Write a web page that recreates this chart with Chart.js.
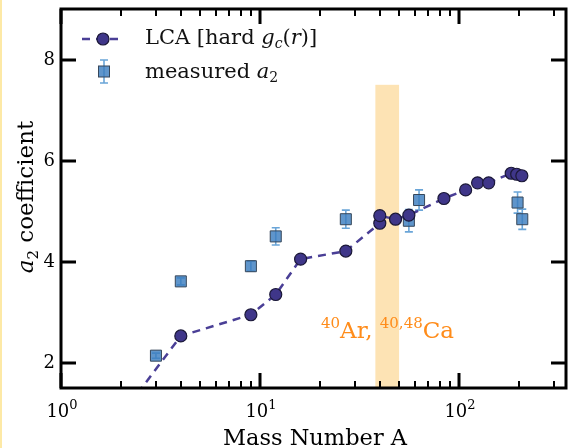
<!DOCTYPE html>
<html>
<head>
<meta charset="utf-8">
<script src="https://cdn.jsdelivr.net/npm/chart.js@4/dist/chart.umd.min.js"></script>
<style>
  html, body { margin: 0; padding: 0; background: #fff; }
  #wrap { position: relative; width: 568px; height: 448px; overflow: hidden; }
  #strip { position: absolute; left: 0; top: 0; width: 2px; height: 448px; background: #fde9a6; }
  canvas { display: block; }
</style>
</head>
<body>
<div id="wrap">
  <canvas id="a2Chart" width="568" height="448"></canvas>
  <div id="strip"></div>
</div>
<script>
  // ── Data ────────────────────────────────────────────────────────────────
  // LCA prediction with hard correlation function
  var lcaA  = [2, 4, 9, 12, 16, 27, 40, 40, 48, 56, 84, 108, 124, 141, 183, 195, 207];
  var lcaA2 = [0.95, 2.53, 2.95, 3.35, 4.05, 4.21, 4.76, 4.91, 4.84, 4.92, 5.25, 5.42, 5.56, 5.56, 5.75, 5.73, 5.70];

  // measured a2 with uncertainties
  var measA   = [3, 4, 9, 12, 27, 56, 63, 197, 208];
  var measA2  = [2.14, 3.61, 3.91, 4.50, 4.84, 4.81, 5.22, 5.17, 4.84];
  var measErr = [0.05, 0.07, 0.10, 0.17, 0.18, 0.22, 0.20, 0.21, 0.20];

  // axis ticks
  var xMajor = [1, 10, 100];
  var xMajorExp = ['0', '1', '2'];
  var xMinor = [2, 3, 4, 5, 6, 7, 8, 9, 20, 30, 40, 50, 60, 70, 80, 90, 200, 300];
  var yMajor = [2, 4, 6, 8];

  // 40Ar / 40,48Ca band
  var bandA = [38, 50];
  var bandTop = 7.5;

  var SERIF = '"DejaVu Serif", serif';
  var LCA_LINE = '#4a3f96';
  var LCA_FILL = '#3f3689';
  var SQ_FILL  = 'rgba(60,126,192,0.82)';
  var SQ_EDGE  = '#36475a';
  var ERR_COL  = '#6aa5d8';
  var ORANGE   = '#ff8c1a';

  function pts(xs, ys) {
    return xs.map(function (x, i) { return { x: x, y: ys[i] }; });
  }

  // draw a run of text pieces with their own fonts / baseline shifts
  function richWidth(ctx, parts) {
    var w = 0;
    parts.forEach(function (p) { ctx.font = p.font; w += ctx.measureText(p.text).width; });
    return w;
  }
  function drawRich(ctx, parts, x, y, align) {
    var w = richWidth(ctx, parts);
    var cx = align === 'center' ? x - w / 2 : (align === 'right' ? x - w : x);
    ctx.textAlign = 'left';
    ctx.textBaseline = 'alphabetic';
    parts.forEach(function (p) {
      ctx.font = p.font;
      ctx.fillText(p.text, cx, y + (p.dy || 0));
      cx += ctx.measureText(p.text).width;
    });
  }

  var decor = {
    id: 'decor',
    beforeDatasetsDraw: function (chart) {
      var ctx = chart.ctx, xs = chart.scales.x, ys = chart.scales.y;
      var area = chart.chartArea;
      ctx.save();
      // shaded band
      var bx0 = xs.getPixelForValue(bandA[0]), bx1 = xs.getPixelForValue(bandA[1]);
      var by = ys.getPixelForValue(bandTop);
      ctx.fillStyle = '#fde3b4';
      ctx.fillRect(bx0, by, bx1 - bx0, area.bottom - by);

      // error bars under the squares
      ctx.strokeStyle = ERR_COL;
      ctx.lineWidth = 1.6;
      measA.forEach(function (a, i) {
        var px = xs.getPixelForValue(a);
        var lo = ys.getPixelForValue(measA2[i] - measErr[i]);
        var hi = ys.getPixelForValue(measA2[i] + measErr[i]);
        ctx.beginPath();
        ctx.moveTo(px, lo); ctx.lineTo(px, hi);
        ctx.moveTo(px - 4, lo); ctx.lineTo(px + 4, lo);
        ctx.moveTo(px - 4, hi); ctx.lineTo(px + 4, hi);
        ctx.stroke();
      });
      ctx.restore();
    },
    afterDatasetsDraw: function (chart) {
      var ctx = chart.ctx, xs = chart.scales.x, ys = chart.scales.y;
      var a = chart.chartArea;
      ctx.save();
      ctx.strokeStyle = '#000';
      ctx.fillStyle = '#000';

      // ticks pointing inward on all four sides
      function xTick(v, len, w) {
        var px = Math.round(xs.getPixelForValue(v));
        ctx.lineWidth = w;
        ctx.beginPath();
        ctx.moveTo(px, a.bottom); ctx.lineTo(px, a.bottom - len);
        ctx.moveTo(px, a.top); ctx.lineTo(px, a.top + len);
        ctx.stroke();
      }
      xMajor.forEach(function (v) { xTick(v, 15, 3); });
      xMinor.forEach(function (v) { xTick(v, 7, 2); });
      yMajor.forEach(function (v) {
        var py = Math.round(ys.getPixelForValue(v));
        ctx.lineWidth = 3;
        ctx.beginPath();
        ctx.moveTo(a.left, py); ctx.lineTo(a.left + 15, py);
        ctx.moveTo(a.right, py); ctx.lineTo(a.right - 15, py);
        ctx.stroke();
      });

      // frame
      ctx.lineWidth = 3;
      ctx.strokeRect(a.left, a.top, a.right - a.left, a.bottom - a.top);

      // tick labels
      xMajor.forEach(function (v, i) {
        var px = xs.getPixelForValue(v);
        drawRich(ctx, [
          { text: '10', font: '18px ' + SERIF },
          { text: xMajorExp[i], font: '13px ' + SERIF, dy: -8 }
        ], px + 1, 417, 'center');
      });
      ctx.font = '18px ' + SERIF;
      ctx.textAlign = 'right';
      ctx.textBaseline = 'middle';
      yMajor.forEach(function (v) {
        ctx.fillText(String(v), a.left - 6, ys.getPixelForValue(v) + 1);
      });

      // axis titles
      drawRich(ctx, [{ text: 'Mass Number A', font: '22.5px ' + SERIF }], 315, 445, 'center');

      ctx.save();
      ctx.translate(33, 197);
      ctx.rotate(-Math.PI / 2);
      drawRich(ctx, [
        { text: 'a', font: 'italic 23px ' + SERIF },
        { text: '2', font: '15px ' + SERIF, dy: 5 },
        { text: ' coefficient', font: '23px ' + SERIF }
      ], 0, 0, 'center');
      ctx.restore();

      // legend
      ctx.strokeStyle = LCA_LINE;
      ctx.lineWidth = 2.5;
      ctx.setLineDash([8, 6]);
      ctx.beginPath();
      ctx.moveTo(82, 39); ctx.lineTo(120, 39);
      ctx.stroke();
      ctx.setLineDash([]);
      ctx.beginPath();
      ctx.arc(103, 39, 6, 0, Math.PI * 2);
      ctx.fillStyle = LCA_FILL;
      ctx.fill();
      ctx.lineWidth = 1.2;
      ctx.strokeStyle = '#1b1838';
      ctx.stroke();

      ctx.strokeStyle = ERR_COL;
      ctx.lineWidth = 1.6;
      ctx.beginPath();
      ctx.moveTo(104, 60); ctx.lineTo(104, 83);
      ctx.moveTo(100, 60); ctx.lineTo(108, 60);
      ctx.moveTo(100, 83); ctx.lineTo(108, 83);
      ctx.stroke();
      ctx.fillStyle = SQ_FILL;
      ctx.fillRect(98.5, 66, 11, 11);
      ctx.strokeStyle = SQ_EDGE;
      ctx.lineWidth = 1;
      ctx.strokeRect(98.5, 66, 11, 11);

      ctx.fillStyle = '#111';
      drawRich(ctx, [
        { text: 'LCA [hard ', font: '21px ' + SERIF },
        { text: 'g', font: 'italic 21px ' + SERIF },
        { text: 'c', font: 'italic 14px ' + SERIF, dy: 4 },
        { text: '(', font: '21px ' + SERIF },
        { text: 'r', font: 'italic 21px ' + SERIF },
        { text: ')]', font: '21px ' + SERIF }
      ], 145, 44, 'left');
      drawRich(ctx, [
        { text: 'measured ', font: '21px ' + SERIF },
        { text: 'a', font: 'italic 21px ' + SERIF },
        { text: '2', font: '14px ' + SERIF, dy: 4 }
      ], 145, 78, 'left');

      // band annotation
      ctx.fillStyle = ORANGE;
      drawRich(ctx, [
        { text: '40', font: '15px ' + SERIF, dy: -10 },
        { text: 'Ar, ', font: '23px ' + SERIF },
        { text: '40,48', font: '15px ' + SERIF, dy: -10 },
        { text: 'Ca', font: '23px ' + SERIF }
      ], 321, 338, 'left');

      ctx.restore();
    }
  };

  new Chart(document.getElementById('a2Chart'), {
    type: 'scatter',
    data: {
      datasets: [
        {
          label: 'LCA [hard g_c(r)]',
          data: pts(lcaA, lcaA2),
          showLine: true,
          borderColor: LCA_LINE,
          borderWidth: 2.5,
          borderDash: [8, 6],
          pointRadius: 6,
          pointHoverRadius: 6,
          pointBackgroundColor: LCA_FILL,
          pointBorderColor: '#1b1838',
          pointBorderWidth: 1.2
        },
        {
          label: 'measured a2',
          data: pts(measA, measA2),
          showLine: false,
          pointStyle: 'rect',
          pointRadius: 7.8,
          pointHoverRadius: 7.8,
          pointBackgroundColor: SQ_FILL,
          pointBorderColor: SQ_EDGE,
          pointBorderWidth: 1
        }
      ]
    },
    options: {
      responsive: false,
      animation: false,
      devicePixelRatio: 1,
      layout: { autoPadding: false, padding: { left: 61, top: 9, right: 2, bottom: 60 } },
      plugins: { legend: { display: false }, tooltip: { enabled: false } },
      scales: {
        x: { type: 'logarithmic', min: 1, max: 345, display: false },
        y: { type: 'linear', min: 1.5, max: 9, display: false }
      }
    },
    plugins: [decor]
  });
</script>
</body>
</html>
